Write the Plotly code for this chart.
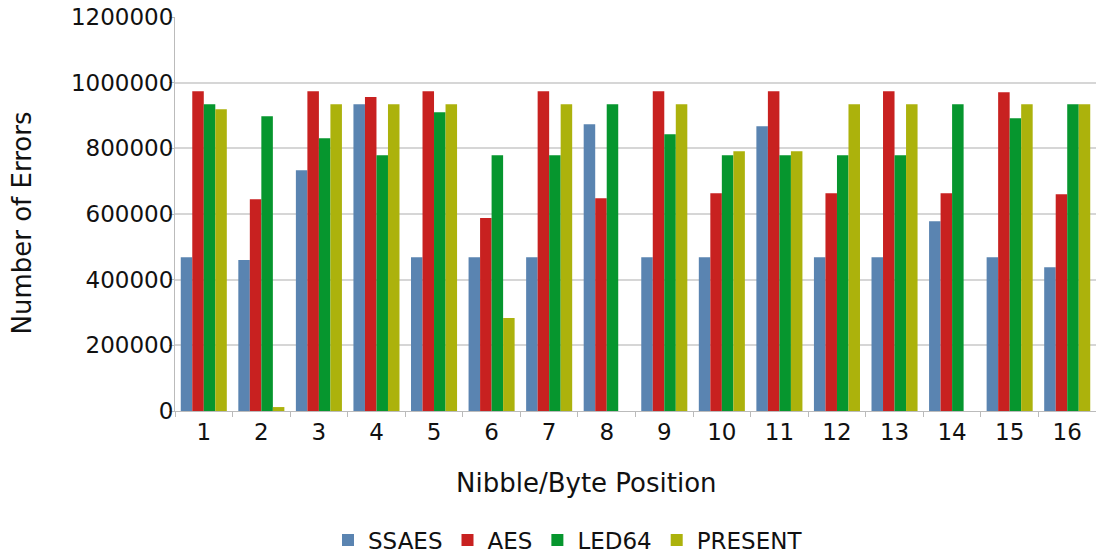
import plotly.graph_objects as go

positions = [str(i) for i in range(1, 17)]
ssaes   = [468000, 460000, 733000, 934000, 468000, 468000, 468000, 873000, 468000, 468000, 867000, 468000, 468000, 578000, 468000, 438000]
aes     = [974000, 645000, 974000, 956000, 974000, 588000, 974000, 648000, 974000, 663000, 974000, 663000, 974000, 663000, 971000, 660000]
led64   = [934000, 898000, 831000, 779000, 910000, 779000, 779000, 934000, 843000, 779000, 779000, 779000, 779000, 934000, 892000, 934000]
present = [919000, 12000, 934000, 934000, 934000, 283000, 934000, 0, 934000, 791000, 791000, 934000, 934000, 0, 934000, 934000]

series = [
    ("SSAES", ssaes, "#5a84b1"),
    ("AES", aes, "#c82120"),
    ("LED64", led64, "#06962e"),
    ("PRESENT", present, "#acb20c"),
]

fig = go.Figure()
for name, vals, color in series:
    fig.add_trace(go.Bar(x=positions, y=vals, name=name, marker=dict(color=color, line=dict(width=0))))

font = "DejaVu Sans, Verdana, sans-serif"
W, H = 1096, 556
L, R, T, B = 175, 0, 17, 145
pw, ph = W - L - R, H - T - B

fig.update_layout(
    width=W, height=H,
    margin=dict(l=L, r=R, t=T, b=B, autoexpand=False),
    paper_bgcolor="white", plot_bgcolor="white",
    barmode="group", bargap=0.2, bargroupgap=0,
    font=dict(family=font, size=23, color="#111111"),
    legend=dict(orientation="h", x=(328 - L) / pw, xanchor="left",
                y=(411 - 540) / ph, yanchor="middle",
                font=dict(size=23), itemwidth=30, traceorder="normal"),
    annotations=[
        dict(text="Nibble/Byte Position", xref="paper", yref="paper",
             x=(586 - L) / pw, y=(411 - 483) / ph, xanchor="center", yanchor="middle",
             showarrow=False, font=dict(size=26)),
        dict(text="Number of Errors", xref="paper", yref="paper", textangle=-90,
             x=(22 - L) / pw, y=(411 - 223.5) / ph, xanchor="center", yanchor="middle",
             showarrow=False, font=dict(size=26)),
    ],
)
fig.update_xaxes(
    type="category", showgrid=False, showline=True, linecolor="#bbbbbb", linewidth=1,
    ticks="outside", tickson="boundaries", ticklen=5, tickcolor="#bbbbbb",
    automargin=False,
)
fig.update_yaxes(
    range=[0, 1200000], dtick=200000, tickformat="d",
    showgrid=True, gridcolor="#d6d6d6", gridwidth=1.5,
    showline=True, linecolor="#bbbbbb", linewidth=1,
    ticks="outside", ticklen=5, tickcolor="#bbbbbb",
    ticklabelstandoff=-9,
    zeroline=False, automargin=False,
)

fig.write_html("out.html", config={"displayModeBar": False},
               post_script="document.body.style.margin='0';")
